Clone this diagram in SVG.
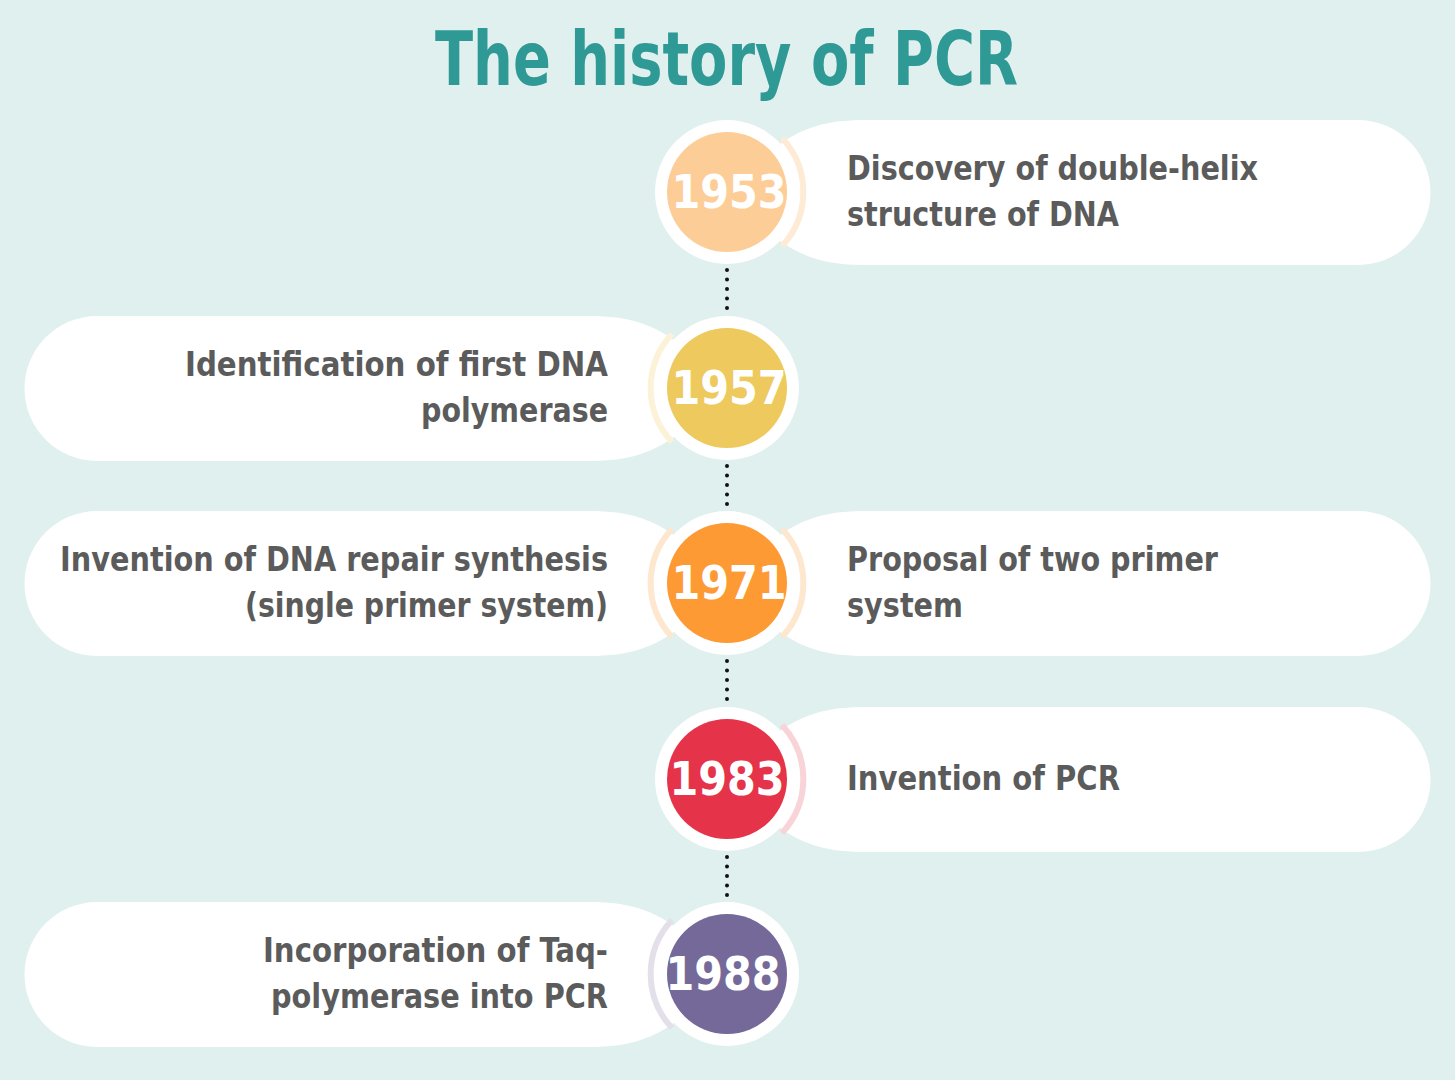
<svg xmlns="http://www.w3.org/2000/svg" width="1455" height="1080" viewBox="0 0 1455 1080">
<style>
.t{font-family:"DejaVu Sans Condensed","Liberation Sans",sans-serif;font-weight:bold;font-size:34px;fill:#5b5b5b}
.y{font-family:"DejaVu Sans Condensed","Liberation Sans",sans-serif;font-weight:bold;font-size:46px;fill:#fff;text-anchor:middle}
.pill{fill:#fff}
.halo{fill:#fff}
.dots{stroke:#111;stroke-width:4;stroke-linecap:round;stroke-dasharray:0 9.5;fill:none}
</style>
<rect width="1455" height="1080" fill="#dff0ef"/>
<text x="435" y="85" textLength="583" lengthAdjust="spacingAndGlyphs" style="font-family:'DejaVu Sans Condensed','Liberation Sans',sans-serif;font-weight:bold;font-size:74px;fill:#2f9a95">The history of PCR</text>
<g id="connectors">
<line class="dots" x1="727" y1="270" x2="727" y2="312"/>
<line class="dots" x1="727" y1="466" x2="727" y2="507"/>
<line class="dots" x1="727" y1="661" x2="727" y2="703"/>
<line class="dots" x1="727" y1="857" x2="727" y2="898"/>
</g>
<g id="n1953">
<path class="pill" d="M772,150 C800,128 825,120 865,120 H1358 A72.5,72.5 0 0 1 1358,265 H865 C825,265 800,257 772,235 Z"/>
<path d="M782,138 A79,79 0 0 1 782,246" fill="none" stroke="#fdebd6" stroke-width="6"/>
<circle cx="727" cy="192" r="72" class="halo"/>
<circle cx="727" cy="192" r="60" fill="#fdcd98"/>
<text class="y" x="729" y="208">1953</text>
<text class="t" x="847" y="180" textLength="411" lengthAdjust="spacingAndGlyphs">Discovery of double-helix</text>
<text class="t" x="847" y="226" textLength="272" lengthAdjust="spacingAndGlyphs">structure of DNA</text>
</g>
<g id="n1957">
<path class="pill" d="M682,346 C654,324 629,316 589,316 H97 A72.5,72.5 0 0 0 97,461 H589 C629,461 654,453 682,431 Z"/>
<path d="M672,334 A79,79 0 0 0 672,442" fill="none" stroke="#fbf2d8" stroke-width="6"/>
<circle cx="727" cy="388" r="72" class="halo"/>
<circle cx="727" cy="388" r="60" fill="#edc95e"/>
<text class="y" x="729" y="404">1957</text>
<text class="t" x="608" y="376" text-anchor="end" textLength="423" lengthAdjust="spacingAndGlyphs">Identification of first DNA</text>
<text class="t" x="608" y="422" text-anchor="end" textLength="187" lengthAdjust="spacingAndGlyphs">polymerase</text>
</g>
<g id="n1971">
<path class="pill" d="M682,541 C654,519 629,511 589,511 H97 A72.5,72.5 0 0 0 97,656 H589 C629,656 654,648 682,626 Z"/>
<path class="pill" d="M772,541 C800,519 825,511 865,511 H1358 A72.5,72.5 0 0 1 1358,656 H865 C825,656 800,648 772,626 Z"/>
<path d="M672,529 A79,79 0 0 0 672,637" fill="none" stroke="#fde7cf" stroke-width="6"/>
<path d="M782,529 A79,79 0 0 1 782,637" fill="none" stroke="#fde7cf" stroke-width="6"/>
<circle cx="727" cy="583" r="72" class="halo"/>
<circle cx="727" cy="583" r="60" fill="#fd9a33"/>
<text class="y" x="729" y="599">1971</text>
<text class="t" x="608" y="571" text-anchor="end" textLength="548" lengthAdjust="spacingAndGlyphs">Invention of DNA repair synthesis</text>
<text class="t" x="608" y="617" text-anchor="end" textLength="363" lengthAdjust="spacingAndGlyphs">(single primer system)</text>
<text class="t" x="847" y="571" textLength="371" lengthAdjust="spacingAndGlyphs">Proposal of two primer</text>
<text class="t" x="847" y="617" textLength="116" lengthAdjust="spacingAndGlyphs">system</text>
</g>
<g id="n1983">
<path class="pill" d="M772,737 C800,715 825,707 865,707 H1358 A72.5,72.5 0 0 1 1358,852 H865 C825,852 800,844 772,822 Z"/>
<path d="M782,725 A79,79 0 0 1 782,833" fill="none" stroke="#f8d3d8" stroke-width="6"/>
<circle cx="727" cy="779" r="72" class="halo"/>
<circle cx="727" cy="779" r="60" fill="#e5334a"/>
<text class="y" x="727" y="795">1983</text>
<text class="t" x="847" y="790" textLength="273" lengthAdjust="spacingAndGlyphs">Invention of PCR</text>
</g>
<g id="n1988">
<path class="pill" d="M682,932 C654,910 629,902 589,902 H97 A72.5,72.5 0 0 0 97,1047 H589 C629,1047 654,1039 682,1017 Z"/>
<path d="M672,920 A79,79 0 0 0 672,1028" fill="none" stroke="#e3e0ea" stroke-width="6"/>
<circle cx="727" cy="974" r="72" class="halo"/>
<circle cx="727" cy="974" r="60" fill="#756999"/>
<text class="y" x="723" y="990">1988</text>
<text class="t" x="608" y="962" text-anchor="end" textLength="345" lengthAdjust="spacingAndGlyphs">Incorporation of Taq-</text>
<text class="t" x="608" y="1008" text-anchor="end" textLength="337" lengthAdjust="spacingAndGlyphs">polymerase into PCR</text>
</g>
</svg>
